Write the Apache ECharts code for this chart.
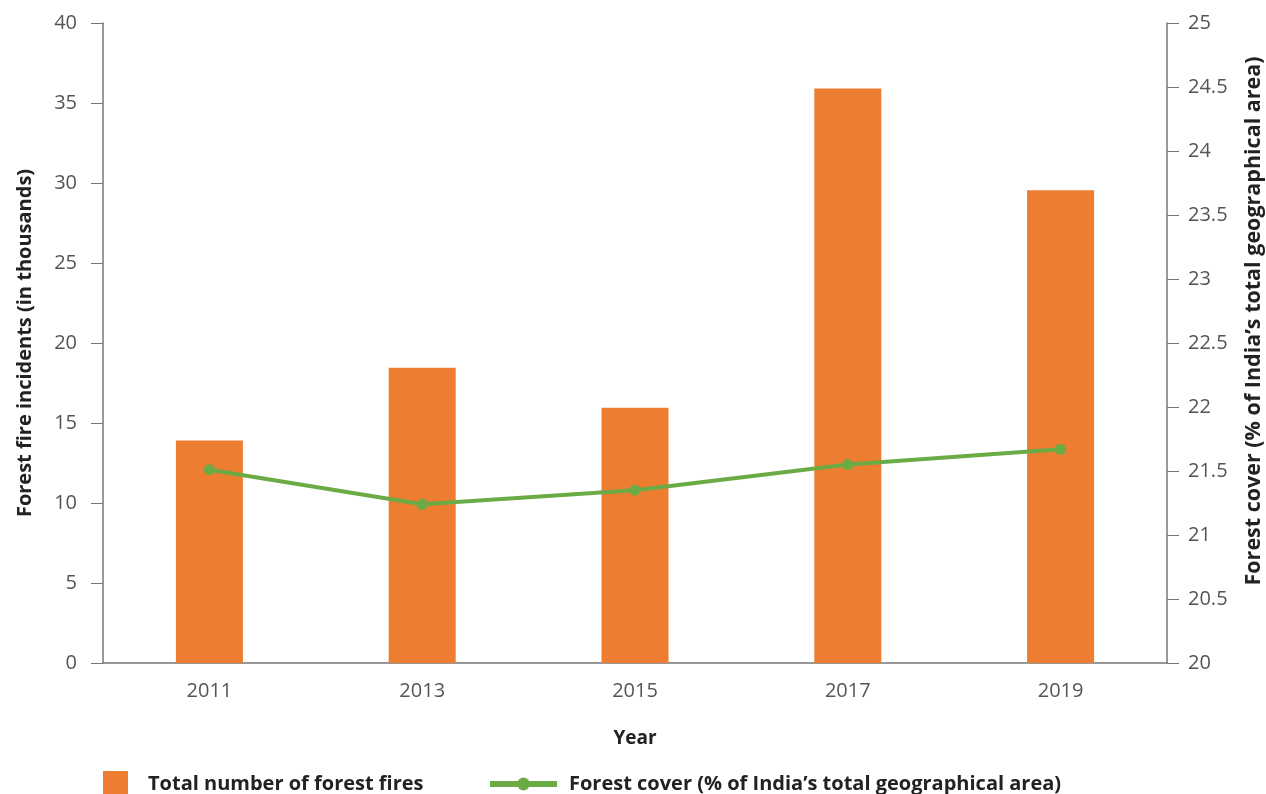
<!DOCTYPE html>
<html><head><meta charset="utf-8">
<script src="https://cdn.jsdelivr.net/npm/echarts@6/dist/echarts.min.js"></script>
<style>html,body{margin:0;padding:0;background:#fff}#c{width:1266px;height:794px}</style>
</head><body><div id="c"></div>
<script>
const years = ['2011','2013','2015','2017','2019'];
const fires = [13.9, 18.45, 15.95, 35.9, 29.55];
const forestCover = [21.51, 21.24, 21.35, 21.55, 21.67];
const leftTicks = [0,5,10,15,20,25,30,35,40];
const rightTicks = [20,20.5,21,21.5,22,22.5,23,23.5,24,24.5,25];

const chart = echarts.init(document.getElementById('c'));
const FF = '"Open Sans", sans-serif';
const tickFont = {color:'#555', fontSize:20, fontFamily:FF};
chart.setOption({
  animation:false,
  grid:{left:103, right:99, top:23, bottom:131, containLabel:false, outerBoundsMode:'none'},
  legend:[
    {data:[{name:'Total number of forest fires', icon:'rect'}], left:103, top:771, padding:0, itemWidth:25, itemHeight:26,
     textStyle:{fontSize:20, fontWeight:'bold', color:'#222', fontFamily:FF, padding:[0,0,0,15]}},
    {data:['Forest cover (% of India\u2019s total geographical area)'], left:487, top:774, padding:0, itemWidth:67, itemHeight:16,
     lineStyle:{width:6},
     textStyle:{fontSize:20, fontWeight:'bold', color:'#222', fontFamily:FF, padding:[0,0,0,7]}}
  ],
  xAxis:{type:'category', data:years, name:'Year', nameLocation:'middle', nameGap:66,
    nameTextStyle:{color:'#222', fontSize:19, fontWeight:'bold', fontFamily:FF},
    axisLine:{lineStyle:{color:'#777', width:1.5}}, axisTick:{show:false},
    axisLabel:Object.assign({margin:18}, tickFont)},
  yAxis:[
    {type:'value', min:0, max:40, interval:5, position:'left',
     name:'Forest fire incidents (in thousands)', nameLocation:'middle', nameGap:68, nameRotate:90,
     nameTextStyle:{color:'#222', fontSize:20, fontWeight:'bold', fontFamily:FF},
     axisLine:{show:true, lineStyle:{color:'#777', width:1.5}},
     axisTick:{show:true, length:12, lineStyle:{color:'#777'}},
     splitLine:{show:false},
     axisLabel:Object.assign({margin:26, formatter:v=>leftTicks.includes(v)?String(v):''}, tickFont)},
    {type:'value', min:20, max:25, interval:0.5, position:'right',
     name:'Forest cover (% of India\u2019s total geographical area)', nameLocation:'middle', nameGap:76, nameRotate:90,
     nameTextStyle:{color:'#222', fontSize:21.5, fontWeight:'bold', fontFamily:FF, padding:[0,0,0,44]},
     axisLine:{show:true, lineStyle:{color:'#777', width:1.5}},
     axisTick:{show:true, length:12, lineStyle:{color:'#777'}},
     splitLine:{show:false},
     axisLabel:Object.assign({margin:21, formatter:v=>rightTicks.includes(v)?String(v):''}, tickFont)}
  ],
  series:[
    {name:'Total number of forest fires', type:'bar', data:fires, barWidth:67,
     itemStyle:{color:'#ED7D31'}},
    {name:'Forest cover (% of India\u2019s total geographical area)', type:'line', yAxisIndex:1, data:forestCover,
     symbol:'circle', symbolSize:11, lineStyle:{color:'#6AAB45', width:4}, itemStyle:{color:'#6AAB45'}}
  ]
});
</script></body></html>
